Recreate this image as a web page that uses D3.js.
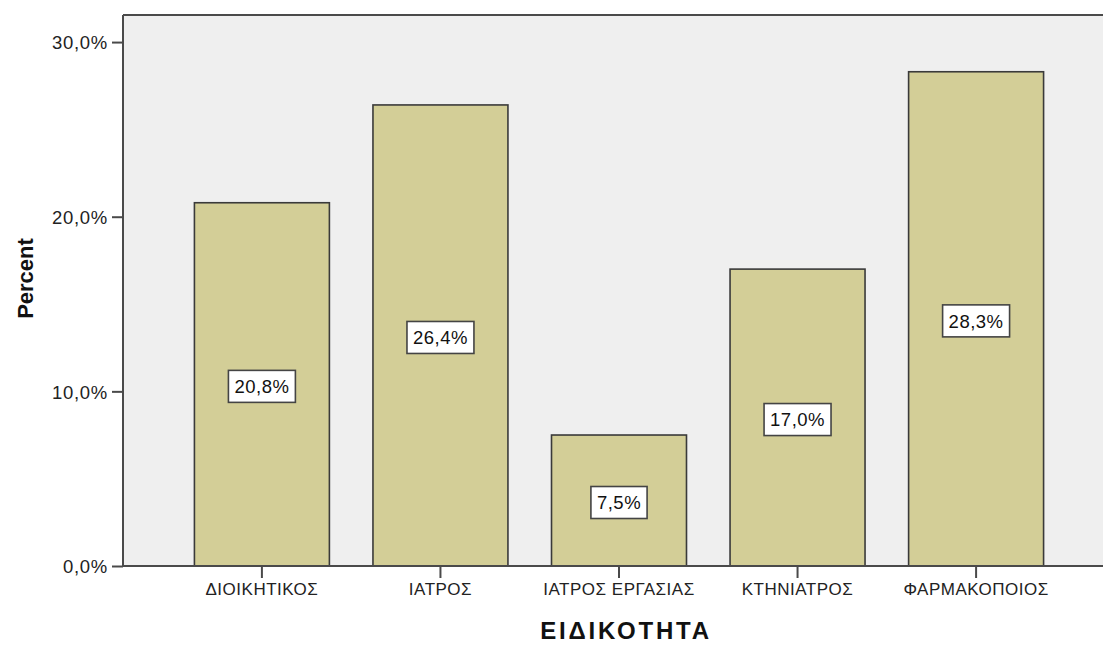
<!DOCTYPE html>
<html>
<head>
<meta charset="utf-8">
<script src="https://cdn.jsdelivr.net/npm/d3@7"></script>
<style>
  html, body { margin: 0; padding: 0; background: #ffffff; }
  svg { display: block; font-family: "Liberation Sans", Arial, sans-serif; }
</style>
</head>
<body>
<svg id="chart" width="1103" height="645"></svg>
<script>
// Percentage of respondents by speciality
const categories = ["ΔΙΟΙΚΗΤΙΚΟΣ", "ΙΑΤΡΟΣ", "ΙΑΤΡΟΣ ΕΡΓΑΣΙΑΣ", "ΚΤΗΝΙΑΤΡΟΣ", "ΦΑΡΜΑΚΟΠΟΙΟΣ"];
const percents = [20.8, 26.4, 7.5, 17.0, 28.3];
const yTicks = [0, 10, 20, 30];
const xTitle = "ΕΙΔΙΚΟΤΗΤΑ";
const yTitle = "Percent";

const fmt = v => v.toFixed(1).replace(".", ",") + "%";

const svg = d3.select("#chart");
const plot = { left: 123, right: 1115, top: 15, bottom: 566 };

const x = d3.scaleBand()
  .domain(categories)
  .range([plot.left, plot.right])
  .paddingInner(0.244)
  .paddingOuter(0.4);

const y = d3.scaleLinear()
  .domain([0, 31.55])
  .range([plot.bottom, plot.top]);

// plot background
svg.append("rect")
  .attr("x", plot.left).attr("y", plot.top)
  .attr("width", plot.right - plot.left).attr("height", plot.bottom - plot.top)
  .attr("fill", "#efefef");

// bars
svg.append("g").selectAll("rect")
  .data(categories)
  .join("rect")
  .attr("x", d => x(d))
  .attr("y", (d, i) => y(percents[i]))
  .attr("width", x.bandwidth())
  .attr("height", (d, i) => y(0) - y(percents[i]))
  .attr("fill", "#d3ce97")
  .attr("stroke", "#3a3a3a")
  .attr("stroke-width", 1.6);

// frame: top border
svg.append("line")
  .attr("x1", plot.left).attr("x2", plot.right)
  .attr("y1", plot.top).attr("y2", plot.top)
  .attr("stroke", "#4a4a4a").attr("stroke-width", 2);

// y axis
const yAxis = svg.append("g")
  .attr("transform", `translate(${plot.left},0)`)
  .call(d3.axisLeft(y).tickValues(yTicks).tickFormat(fmt).tickSize(11).tickPadding(4));
yAxis.select(".domain").attr("d", `M0,${plot.top}V${plot.bottom}`).attr("stroke", "#4a4a4a").attr("stroke-width", 2);
yAxis.selectAll(".tick line").attr("stroke", "#4a4a4a").attr("stroke-width", 2);
yAxis.selectAll(".tick text")
  .attr("fill", "#222").attr("font-size", 18.5).attr("font-family", "Liberation Sans, Arial, sans-serif")
  .attr("letter-spacing", 0.7).attr("dy", "0.36em");

// x axis
const xAxis = svg.append("g")
  .attr("transform", `translate(0,${plot.bottom})`)
  .call(d3.axisBottom(x).tickSize(12).tickPadding(5));
xAxis.select(".domain").attr("d", `M${plot.left},0H${plot.right}`).attr("stroke", "#4a4a4a").attr("stroke-width", 2);
xAxis.selectAll(".tick line").attr("stroke", "#4a4a4a").attr("stroke-width", 2);
xAxis.selectAll(".tick text")
  .attr("fill", "#222").attr("font-size", 17).attr("font-family", "Liberation Sans, Arial, sans-serif")
  .attr("letter-spacing", 0.5);

// value labels in boxes at mid-height of each bar
const labels = svg.append("g").selectAll("g")
  .data(categories)
  .join("g")
  .attr("transform", (d, i) => `translate(${x(d) + x.bandwidth() / 2},${(y(0) + y(percents[i])) / 2 + 2})`);

labels.append("text")
  .attr("text-anchor", "middle")
  .attr("dy", "0.36em")
  .attr("font-size", 18.5)
  .attr("letter-spacing", 0.5)
  .attr("fill", "#111")
  .text((d, i) => fmt(percents[i]));

labels.each(function () {
  const g = d3.select(this);
  const bb = g.select("text").node().getBBox();
  g.insert("rect", "text")
    .attr("x", bb.x - 6).attr("y", -16)
    .attr("width", bb.width + 12).attr("height", 32)
    .attr("fill", "#ffffff")
    .attr("stroke", "#444")
    .attr("stroke-width", 1.6);
});

// axis titles
svg.append("text")
  .attr("x", 626).attr("y", 639)
  .attr("text-anchor", "middle")
  .attr("font-size", 24).attr("font-weight", "bold")
  .attr("letter-spacing", 2.8)
  .attr("fill", "#111")
  .text(xTitle);

svg.append("text")
  .attr("transform", `translate(33,${(plot.top + plot.bottom) / 2 - 12}) rotate(-90)`)
  .attr("text-anchor", "middle")
  .attr("font-size", 22).attr("font-weight", "bold")
  .attr("fill", "#111")
  .text(yTitle);
</script>
</body>
</html>
